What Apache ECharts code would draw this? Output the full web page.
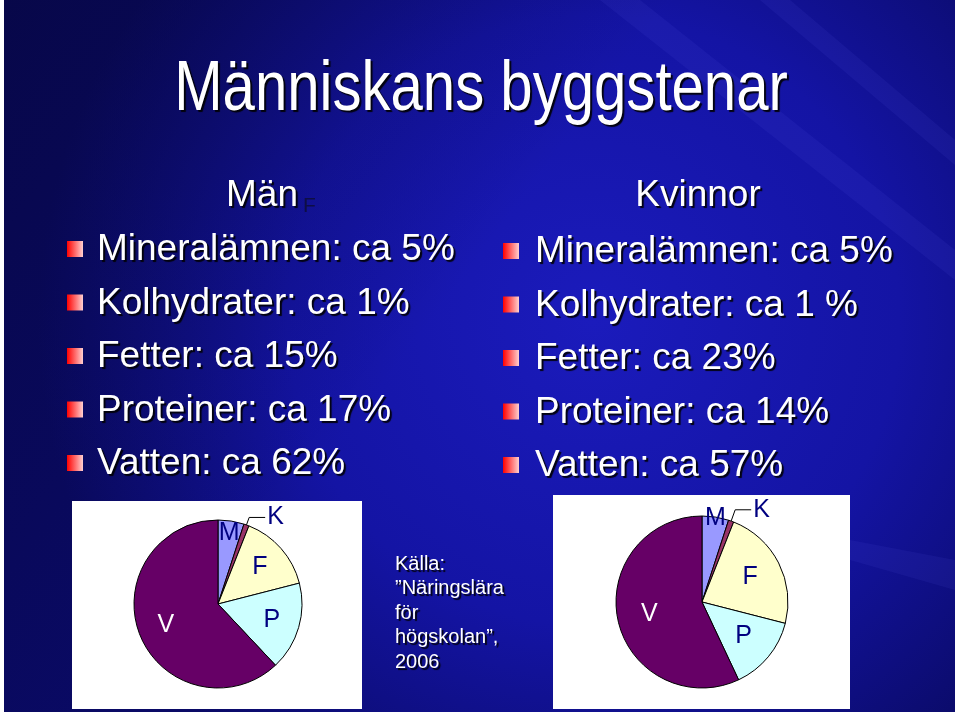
<!DOCTYPE html>
<html><head><meta charset="utf-8">
<script src="https://cdn.jsdelivr.net/npm/echarts@6/dist/echarts.min.js"></script>
<style>html,body{margin:0;padding:0;background:#fff;}#c{width:960px;height:716px;}</style>
</head><body><div id="c"></div>
<script>
// ---- data ----
const slideTitle = 'Människans byggstenar';
const menHeading = 'Män';
const womenHeading = 'Kvinnor';
const categories = ['M', 'K', 'F', 'P', 'V'];
const menValues = [5, 1, 15, 17, 62];
const womenValues = [5, 1, 23, 14, 57];
const menLines = ['Mineralämnen: ca 5%', 'Kolhydrater: ca 1%', 'Fetter: ca 15%', 'Proteiner: ca 17%', 'Vatten: ca 62%'];
const womenLines = ['Mineralämnen: ca 5%', 'Kolhydrater: ca 1 %', 'Fetter: ca 23%', 'Proteiner: ca 14%', 'Vatten: ca 57%'];
const sourceLines = ['Källa:', '”Näringslära', 'för', 'högskolan”,', '2006'];

// ---- styles ----
const SANS = '"Liberation Sans", Arial, sans-serif';
const sliceColors = ['#9999ff', '#993366', '#ffffcc', '#ccffff', '#660066'];
const labelColors = ['#000080', '#000080', '#000080', '#000080', '#ffffff'];

const chart = echarts.init(document.getElementById('c'), null, {renderer: 'canvas'});

function shadowText(text, x, y, size, align, scaleX) {
  return {
    type: 'text', silent: true,
    x: x, y: y, scaleX: scaleX || 1,
    style: {
      text: text, x: 0, y: 0,
      font: size + 'px ' + SANS,
      fill: '#ffffff',
      align: align || 'left', textAlign: align || 'left',
      verticalAlign: 'middle', textVerticalAlign: 'middle',
      textShadowColor: 'rgba(0,0,0,0.9)', textShadowBlur: 1,
      textShadowOffsetX: 2, textShadowOffsetY: 2
    }
  };
}

function bullet(x, y) {
  return {
    type: 'rect', silent: true,
    shape: {x: x, y: y - 8, width: 16, height: 16},
    style: {
      fill: new echarts.graphic.LinearGradient(0, 0, 1, 0, [
        {offset: 0, color: '#ff0000'},
        {offset: 1, color: '#ffd0d0'}
      ])
    }
  };
}

const graphics = [];
// slide background
graphics.push({
  type: 'rect', silent: true,
  shape: {x: 4, y: 0, width: 951, height: 712},
  style: {
    fill: new echarts.graphic.RadialGradient(0.62, 0.45, 0.78, [
      {offset: 0, color: '#1b1bbc'},
      {offset: 0.55, color: '#1414a4'},
      {offset: 1, color: '#0a0a66'}
    ])
  }
});
graphics.push({
  type: 'rect', silent: true,
  shape: {x: 4, y: 0, width: 951, height: 712},
  style: {
    fill: new echarts.graphic.LinearGradient(0, 0, 1, 1, [
      {offset: 0, color: 'rgba(5,5,50,0.55)'},
      {offset: 0.45, color: 'rgba(5,5,50,0)'},
      {offset: 1, color: 'rgba(5,5,50,0)'}
    ])
  }
});
// subtle streaks
graphics.push({type: 'polygon', silent: true, shape: {points: [[600, 0], [640, 0], [955, 250], [955, 280]]}, style: {fill: 'rgba(120,120,255,0.08)'}});
graphics.push({type: 'polygon', silent: true, shape: {points: [[760, 0], [790, 0], [955, 140], [955, 165]]}, style: {fill: 'rgba(120,120,255,0.08)'}});
graphics.push({type: 'polygon', silent: true, shape: {points: [[850, 540], [955, 560], [955, 590], [850, 560]]}, style: {fill: 'rgba(120,120,255,0.08)'}});

// title (condensed)
graphics.push(shadowText(slideTitle, 481, 91, 70, 'center', 0.83));
// headings
graphics.push(shadowText(menHeading, 262, 196, 37, 'center'));
graphics.push({
  type: 'text', silent: true,
  style: {text: 'F', x: 303, y: 206, font: '21px ' + SANS, fill: '#0e0e44', align: 'left', textAlign: 'left', verticalAlign: 'middle', textVerticalAlign: 'middle'}
});
graphics.push(shadowText(womenHeading, 698, 196, 37, 'center'));

// bullet lines
menLines.forEach(function (t, i) {
  const y = 250 + i * 53.5;
  graphics.push(bullet(67, y - 1));
  graphics.push(shadowText(t, 97, y, 37, 'left'));
});
womenLines.forEach(function (t, i) {
  const y = 252 + i * 53.5;
  graphics.push(bullet(503, y - 1));
  graphics.push(shadowText(t, 535, y, 37, 'left'));
});

// source
sourceLines.forEach(function (t, i) {
  graphics.push(shadowText(t, 395, 564 + i * 24.5, 20, 'left'));
});

// white chart boxes
graphics.push({type: 'rect', silent: true, shape: {x: 72, y: 501, width: 290, height: 208}, style: {fill: '#ffffff'}});
graphics.push({type: 'rect', silent: true, shape: {x: 553, y: 495, width: 297, height: 214}, style: {fill: '#ffffff'}});

function makePies(values, center, radius, kLine, innerR0, mR0) {
  const common = {
    type: 'pie', center: center, startAngle: 90, clockwise: true,
    silent: true, animation: false, avoidLabelOverlap: false,
    emphasis: {disabled: true}
  };
  const main = Object.assign({}, common, {
    radius: [0, radius],
    itemStyle: {borderColor: '#000000', borderWidth: 1},
    label: {show: false},
    labelLine: {show: false},
    data: categories.map(function (c, i) {
      const isK = c === 'K';
      return {
        name: c, value: values[i],
        itemStyle: {color: sliceColors[i]},
        label: isK ? {show: true, position: 'outside', formatter: '{b}', color: labelColors[i], fontSize: 25, fontFamily: SANS, distanceToLabelLine: 2} : {show: false},
        labelLine: isK ? {show: true, length: kLine[0], length2: kLine[1], lineStyle: {color: '#000000', width: 1}} : {show: false}
      };
    })
  });
  function labelSeries(r0, only) {
    return Object.assign({}, common, {
      radius: [r0, radius], z: 3,
      itemStyle: {color: 'transparent', borderWidth: 0},
      labelLine: {show: false},
      data: categories.map(function (c, i) {
        return {
          name: c, value: values[i],
          label: {show: only.indexOf(c) >= 0, position: 'inside', formatter: '{b}', color: labelColors[i], fontSize: 25, fontFamily: SANS}
        };
      })
    });
  }
  return [main, labelSeries(innerR0, ['F', 'P', 'V']), labelSeries(mR0, ['M'])];
}

const series = [].concat(
  makePies(menValues, [218, 604], 84, [8, 16], 22, 54),
  makePies(womenValues, [702, 602], 86, [12, 16], 16, 78)
);

chart.setOption({
  animation: false,
  backgroundColor: '#ffffff',
  graphic: {elements: graphics},
  series: series
});
</script></body></html>
